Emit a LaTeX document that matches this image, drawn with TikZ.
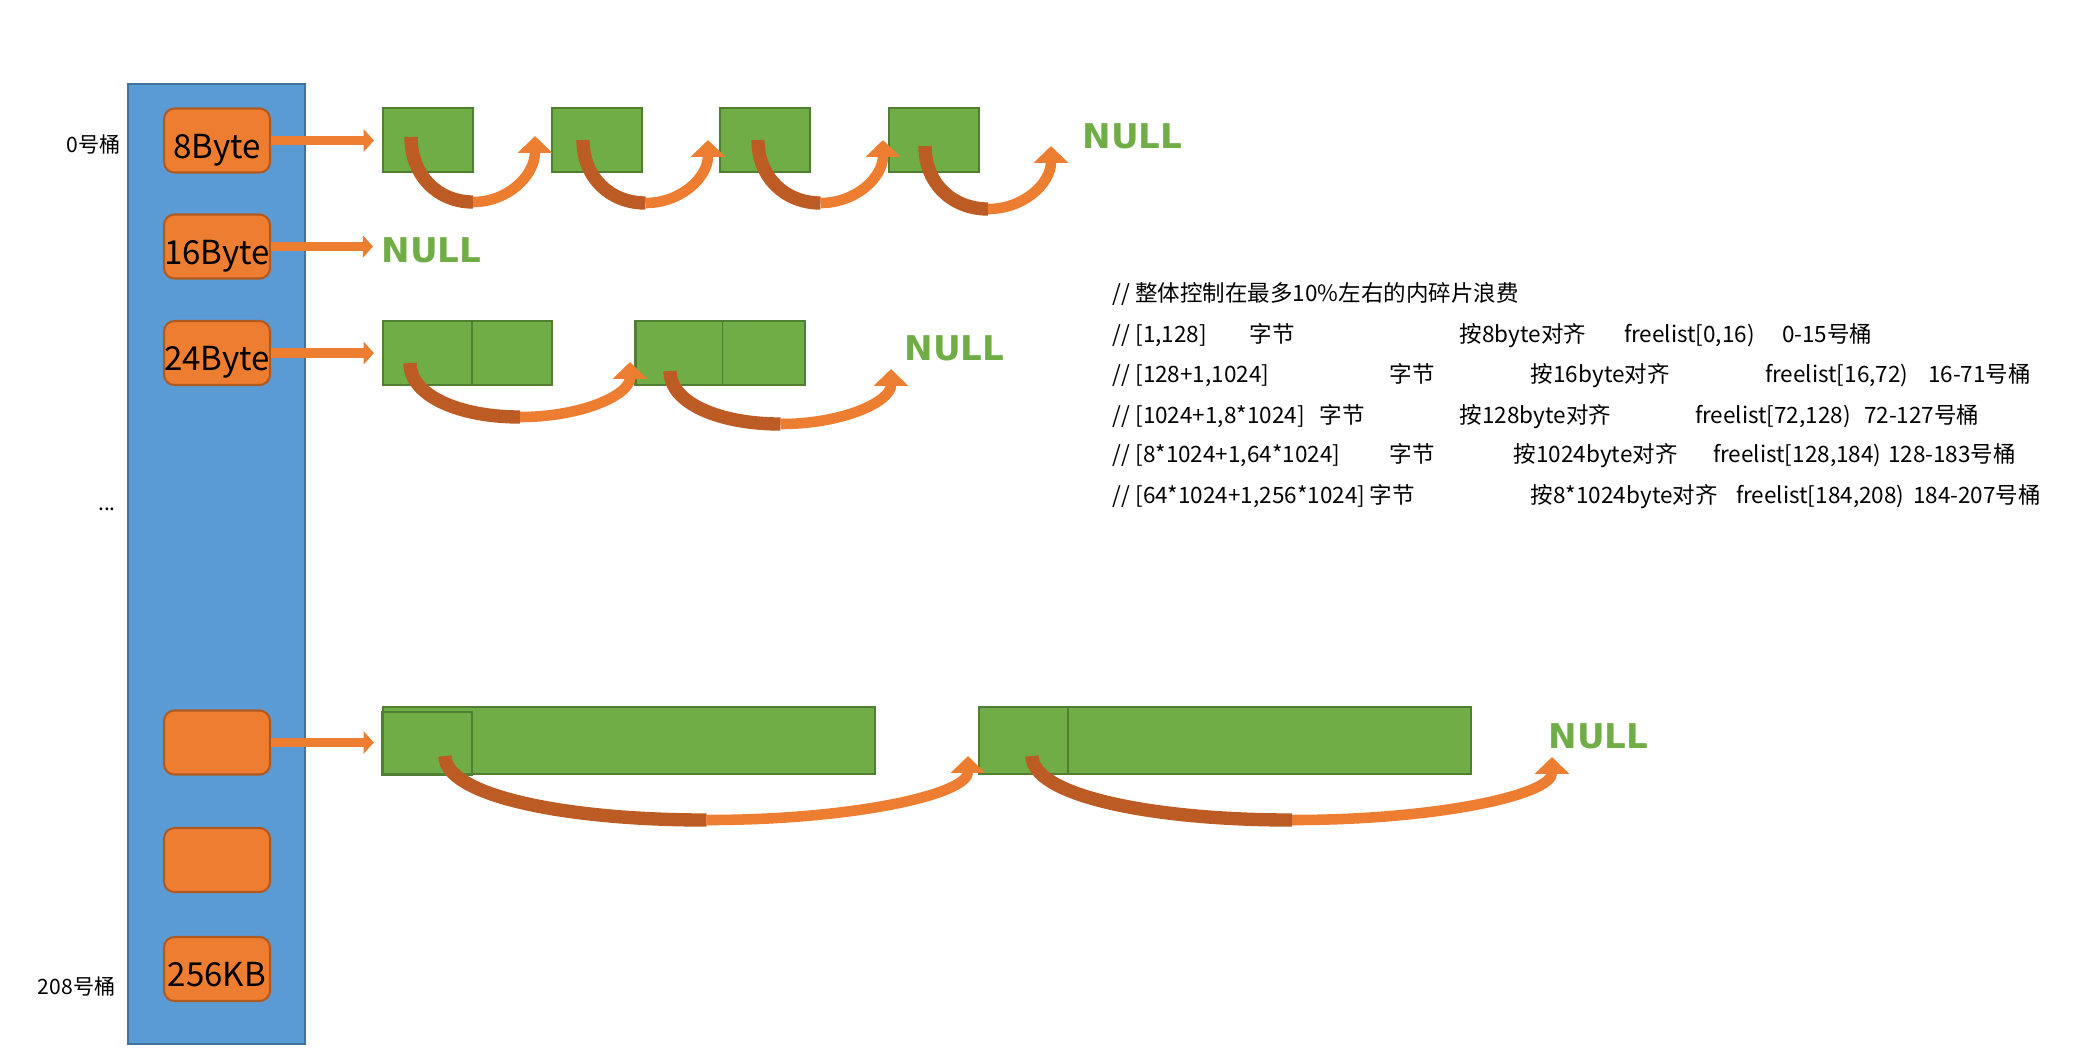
\documentclass[tikz,border=0pt]{standalone}
\usepackage{fontspec}
\setmainfont{Noto Sans CJK SC}
\newfontfamily\nullface{DejaVu Sans}
\usetikzlibrary{arrows.meta}

\definecolor{bucketblue}{HTML}{5B9BD5}
\definecolor{bucketedge}{HTML}{41719C}
\definecolor{sizeorange}{HTML}{ED7D31}
\definecolor{sizeedge}{HTML}{AE5A21}
\definecolor{hopdark}{HTML}{BC5C24}
\definecolor{hopmid}{HTML}{D46C2A}
\definecolor{spangreen}{HTML}{70AD47}
\definecolor{spanedge}{HTML}{507E32}

% one column of the note block
\newcommand{\col}[2]{\makebox[#1cm][l]{#2}}

\tikzset{
  sizebox/.style={draw=sizeedge, fill=sizeorange, line width=0.6pt,
    rounded corners=3pt, minimum width=1.06cm, minimum height=0.64cm,
    inner sep=0pt, font=\fontsize{9.4}{10}\selectfont,
    text height=1em, text depth=0pt},
  spanbox/.style={draw=spanedge, fill=spangreen, line width=0.6pt,
    minimum height=0.64cm, inner sep=0pt},
  nulltext/.style={anchor=west, inner sep=0pt, text=spangreen,
    font=\nullface\bfseries\fontsize{9.7}{10}\selectfont},
  feed/.style={draw=sizeorange, line width=2.8pt,
    -{Triangle[length=2.9pt,width=6.3pt]}, shorten >=0.08cm},
  hopdown/.style={draw=hopdark, line width=3.8pt},
  hopup/.style={draw=sizeorange, line width=3pt,
    -{Triangle[length=4.8pt,width=9.6pt]}},
  note/.style={anchor=base west, inner sep=0pt,
    font=\fontsize{6.4}{8}\selectfont},
  bucketlabel/.style={anchor=east, inner sep=0pt,
    font=\fontsize{6}{7}\selectfont},
}

\begin{document}
\begin{tikzpicture}[x=0.01cm, y=-0.01cm]

    % Frame
    \useasboundingbox (0,0) rectangle (2094,1062);

    % Bucket array
    \node[draw=bucketedge, fill=bucketblue, line width=0.6pt,
      minimum width=1.77cm, minimum height=9.60cm, inner sep=0pt]
      (bucket) at (216.5,564) {};

    \node[sizebox] (k1) at (217,140.5) {8Byte};
    \node[sizebox] (k2) at (217,246.5) {16Byte};
    \node[sizebox] (k3) at (217,353) {24Byte};
    \node[sizebox] (k4) at (217,742.5) {};
    \node[sizebox] (k5) at (217,860) {};
    \node[sizebox] (k6) at (217,969) {256KB};

    % Bucket numbers
    \node[bucketlabel] (l0) at (121,144) {0号桶};
    \node[inner sep=0pt, font=\fontsize{6}{7}\selectfont] (ldots) at (107,509) {...};
    \node[bucketlabel] (l208) at (116,986) {208号桶};

    % 8Byte list
    \node[spanbox, minimum width=0.90cm] (a1) at (428,140) {};
    \node[spanbox, minimum width=0.90cm] (a2) at (597,140) {};
    \node[spanbox, minimum width=0.90cm] (a3) at (765,140) {};
    \node[spanbox, minimum width=0.90cm] (a4) at (934,140) {};
    \node[nulltext] (n1) at (1082,136) {NULL};

    % 16Byte list
    \node[nulltext] (n2) at (381,250) {NULL};

    % 24Byte list
    \node[spanbox, minimum width=1.69cm] (c1) at (467.5,353) {};
    \node[spanbox, minimum width=1.69cm] (c2) at (720,353) {};
    \draw[spanedge, line width=0.5pt] ([xshift=0.9cm]c1.north west) -- ([xshift=0.9cm]c1.south west);
    \draw[spanedge, line width=0.5pt] ([xshift=0.88cm]c2.north west) -- ([xshift=0.88cm]c2.south west);
    \node[nulltext] (n3) at (904,348) {NULL};

    % big span list
    \node[spanbox, minimum width=4.92cm, minimum height=0.67cm] (d1) at (629,740.5) {};
    \node[spanbox, minimum width=4.92cm, minimum height=0.67cm] (d2) at (1225,740.5) {};
    \draw[spanedge, line width=0.4pt] (d1.south west) rectangle ++(90,-63);
    \draw[spanedge, line width=0.5pt] ([xshift=0.9cm]d2.north west) -- ([xshift=0.9cm]d2.south west);
    \node[nulltext] (n4) at (1548,736) {NULL};

    % Bucket heads
    \draw[feed] (k1.east) -- (k1.east -| a1.west);
    \draw[feed] (k2.east) -- (k2.east -| n2.west);
    \draw[feed] (k3.east) -- (k3.east -| c1.west);
    \draw[feed] (k4.east) -- (k4.east -| d1.west);

    % Next pointers
    \foreach \sx/\sy/\by/\tx/\ty [count=\i] in
      {411/137/202/535/136, 583/140/203/708/140, 758/140/203/883/140,
       925/146/209/1051/146, 410/363/417/630/362, 670/371/424/891/369,
       445/756/820/968/756, 1032/756/820/1552/757}{
      \coordinate (hs\i) at (\sx,\sy);
      \coordinate (hb\i) at ({(\sx+\tx)/2},\by);
      \coordinate (ht\i) at (\tx,\ty);
      \draw[hopdown] (hs\i) .. controls +(0,{0.6*(\by-\sy)})
        and +({-0.28*(\tx-\sx)},0) .. (hb\i);
      \draw[hopup] (hb\i) .. controls +({0.28*(\tx-\sx)},0)
        and +(0,{0.6*(\by-\ty)}) .. (ht\i);
    }

    % Size classes
    \node[note] (t1) at (1112,301) {// 整体控制在最多10\%左右的内碎片浪费};
    \node[note] (t2) at (1112,342) {\col{1.37}{// [1,128]}\col{2.10}{字节}\col{1.64}{按8byte对齐}\col{1.58}{freelist[0,16)}0-15号桶};
    \node[note] (t3) at (1112,382) {\col{2.77}{// [128+1,1024]}\col{1.41}{字节}\col{2.34}{按16byte对齐}\col{1.63}{freelist[16,72)}16-71号桶};
    \node[note] (t4) at (1112,423) {\col{2.07}{// [1024+1,8*1024]}\col{1.40}{字节}\col{2.35}{按128byte对齐}\col{1.69}{freelist[72,128)}72-127号桶};
    \node[note] (t5) at (1112,462) {\col{2.77}{// [8*1024+1,64*1024]}\col{1.24}{字节}\col{1.99}{按1024byte对齐}\col{1.75}{freelist[128,184)}128-183号桶};
    \node[note] (t6) at (1112,503) {\col{2.57}{// [64*1024+1,256*1024]}\col{1.61}{字节}\col{2.05}{按8*1024byte对齐}\col{1.77}{freelist[184,208)}184-207号桶};

\end{tikzpicture}
\end{document}
